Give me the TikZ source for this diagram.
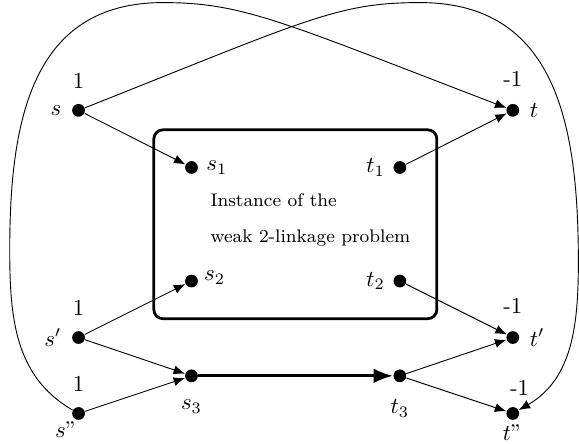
\documentclass[tikz,border=0pt]{standalone}
\usetikzlibrary{arrows.meta}
\begin{document}
\begin{tikzpicture}[vert/.style={circle,fill,inner sep=0pt,minimum size=5.6pt},
  arc/.style={-{Latex[length=5pt,width=4pt]}},
  bigarc/.style={very thick,-{Latex[length=8.5pt,width=6.5pt]}}]
\useasboundingbox (0,0) rectangle (8.92,6.84);
% the instance box
\draw[very thick,rounded corners=4pt] (2.37,1.93) rectangle (6.73,4.84);
\node[anchor=west,font=\footnotesize] (txt1) at (3.12,3.76) {Instance of the};
\node[anchor=west,font=\footnotesize] (txt2) at (3.12,3.17) {weak 2-linkage problem};
% terminals inside the box
\foreach \n/\y in {s1/4.26,s2/2.51,s3/1.05}
  \node[vert] (\n) at (2.95,\y) {};
\foreach \n/\y in {t1/4.26,t2/2.51,t3/1.05}
  \node[vert] (\n) at (6.16,\y) {};
\node[right=3pt] at (s1) {$s_1$};
\node[left=3pt] at (t1) {$t_1$};
\node[above right,xshift=2pt,yshift=-5pt] at (s2) {$s_2$};
\node[left=3pt] at (t2) {$t_2$};
\node[below=7pt] at (s3) {$s_3$};
\node[below=7pt] at (t3) {$t_3$};
% outer vertices with their weights
\foreach \n/\y/\lab in {s/5.14/s,sp/1.64/s'}
  \node[vert,label={[label distance=1pt]left:$\lab$},label={[label distance=3pt]above:1}] (\n) at (1.21,\y) {};
\node[vert,label={[label distance=-3pt,xshift=3pt]below left:$s"$},label={[label distance=3pt]above:1}] (spp) at (1.21,0.47) {};
\foreach \n/\y/\lab in {t/5.14/t,tp/1.64/t'}
  \node[vert,label={[label distance=1pt]right:$\lab$},label={[label distance=4pt]above:-1}] (\n) at (7.90,\y) {};
\node[vert,label={[label distance=-1.5pt]below:$t"$},label={[label distance=1.5pt,xshift=3pt]above:-1}] (tpp) at (7.90,0.47) {};
% edges
\draw[arc] (s) -- (s1);
\draw[arc] (sp) -- (s2);
\draw[arc] (sp) -- (s3);
\draw[arc] (spp) -- (s3);
\draw[arc] (t1) -- (t);
\draw[arc] (t2) -- (tp);
\draw[arc] (t3) -- (tp);
\draw[arc] (t3) -- (tpp);
\draw[bigarc] (s3) -- (t3);
% the two long arcs
\coordinate (lside) at (0.15,3.0);
\coordinate (ltop) at (2.51,6.80);
\coordinate (rtop) at (6.47,6.80);
\coordinate (rside) at (8.91,2.8);
\draw[arc] (spp) to[out=150,in=-90] (lside) to[out=90,in=180,looseness=1.15] (ltop)
  .. controls (3.75,6.80) and (4.35,6.50) .. (t);
\draw[arc] (s) .. controls (4.74,6.54) and (5.2,6.80) .. (rtop)
  to[out=0,in=90,looseness=1.15] (rside) to[out=-90,in=30] (tpp);
\end{tikzpicture}
\end{document}
